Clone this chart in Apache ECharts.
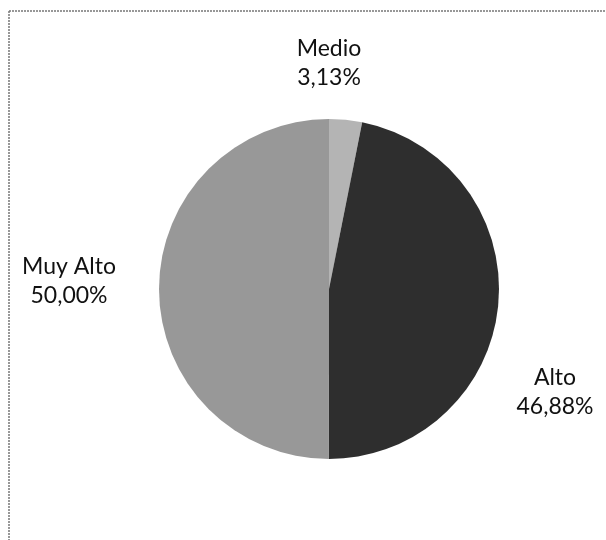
<!DOCTYPE html>
<html><head><meta charset="utf-8">
<script src="https://cdn.jsdelivr.net/npm/echarts@6/dist/echarts.min.js"></script>
<style>html,body{margin:0;padding:0;background:#fff;}#c{width:606px;height:540px;}</style>
</head><body><div id="c"></div>
<script>
const categories = ["Medio", "Alto", "Muy Alto"];
const values = [3.13, 46.88, 50.00];
const colors = ["#b4b4b4", "#2e2e2e", "#989898"];
const labelPos = [[329, 63], [555, 392], [69, 281]];

const chart = echarts.init(document.getElementById('c'), null, {renderer: 'canvas'});
chart.setOption({
  animation: false,
  backgroundColor: '#ffffff',
  graphic: [
    {type: 'line', shape: {x1: 9, y1: 11, x2: 606, y2: 11}, style: {stroke: '#777', lineWidth: 1.5, lineDash: [2, 1]}},
    {type: 'line', shape: {x1: 9, y1: 11, x2: 9, y2: 540}, style: {stroke: '#777', lineWidth: 1.5, lineDash: [2, 1]}}
  ],
  series: [{
    type: 'pie',
    center: [329, 289],
    radius: 170,
    startAngle: 90,
    clockwise: true,
    data: categories.map((c, i) => ({name: c, value: values[i], itemStyle: {color: colors[i]}})),
    label: {
      show: true,
      formatter: p => p.name + '\n' + p.value.toFixed(2).replace('.', ',') + '%',
      fontFamily: 'Lato',
      fontSize: 23,
      lineHeight: 29,
      color: '#111',
      align: 'center',
      overflow: 'none',
      width: 200
    },
    labelLine: {show: false},
    labelLayout: function (params) {
      const p = labelPos[params.dataIndex];
      return {x: p[0], y: p[1], align: 'center', verticalAlign: 'middle'};
    },
    itemStyle: {borderWidth: 0}
  }]
});
</script></body></html>
